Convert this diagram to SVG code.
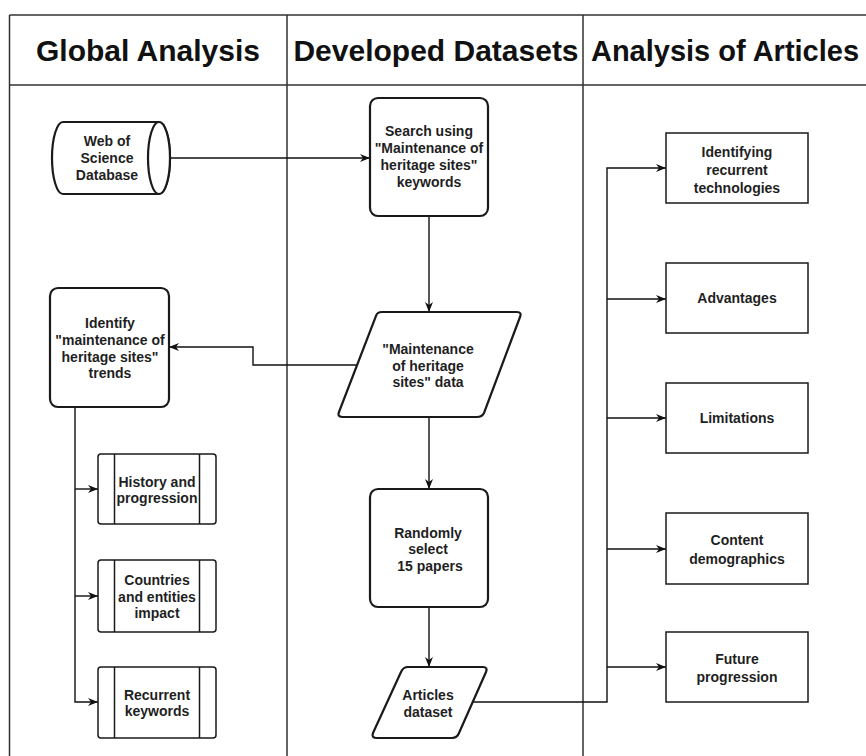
<svg xmlns="http://www.w3.org/2000/svg" width="866" height="756" viewBox="0 0 866 756">
<defs>
<marker id="arr" viewBox="0 0 10 8" refX="10" refY="4" markerWidth="10" markerHeight="8" markerUnits="userSpaceOnUse" orient="auto">
<path d="M0,0 L10,4 L0,8 L3,4 z" fill="#111"/>
</marker>
<style>
.lane{stroke:#333;stroke-width:1.5;fill:none}
.hdr{font-family:"Liberation Sans",Arial,sans-serif;font-weight:bold;font-size:30px;fill:#111;text-anchor:middle}
.node{fill:#fff;stroke:#1a1a1a;stroke-width:2.2}
.thin{fill:none;stroke:#1a1a1a;stroke-width:1.5}
.t{font-family:"Liberation Sans",Arial,sans-serif;font-weight:bold;font-size:14px;fill:#1f1f1f;text-anchor:middle}
.c{fill:none;stroke:#111;stroke-width:1.4}
</style>
</defs>
<rect width="866" height="756" fill="#fff"/>
<g id="lanes">
<path class="lane" d="M9.5,15 H866 M9.5,85 H866 M9.5,15 V756 M287,15 V756 M583,15 V756"/>
<text class="hdr" x="148" y="61">Global Analysis</text>
<text class="hdr" x="436" y="61">Developed Datasets</text>
<text class="hdr" x="725" y="61" style="font-size:29px">Analysis of Articles</text>
</g>
<g id="connectors">
<path class="c" d="M170,158 H370" marker-end="url(#arr)"/>
<path class="c" d="M429,216 V312" marker-end="url(#arr)"/>
<path class="c" d="M357,365 H253 V347 H169" marker-end="url(#arr)"/>
<path class="c" d="M75,407 V702 H98" marker-end="url(#arr)"/>
<path class="c" d="M75,489 H98" marker-end="url(#arr)"/>
<path class="c" d="M75,596 H98" marker-end="url(#arr)"/>
<path class="c" d="M429,417 V489" marker-end="url(#arr)"/>
<path class="c" d="M429,607 V667" marker-end="url(#arr)"/>
<path class="c" d="M472,702 H607 V168 H666" marker-end="url(#arr)"/>
<path class="c" d="M607,299 H666" marker-end="url(#arr)"/>
<path class="c" d="M607,418 H666" marker-end="url(#arr)"/>
<path class="c" d="M607,549 H666" marker-end="url(#arr)"/>
<path class="c" d="M607,667 H666" marker-end="url(#arr)"/>
</g>
<g id="wos">
<path class="node" d="M63,122 H159 A11,36 0 0 1 159,194 H63 A11,36 0 0 1 63,122 Z"/>
<ellipse class="node" cx="159" cy="158" rx="11" ry="36"/>
<text class="t" x="107" y="146">Web of</text>
<text class="t" x="107" y="163">Science</text>
<text class="t" x="107" y="180">Database</text>
</g>
<g id="search">
<rect class="node" x="370" y="98" width="118" height="118" rx="8"/>
<text class="t" x="429" y="136">Search using</text>
<text class="t" x="429" y="153">"Maintenance of</text>
<text class="t" x="429" y="170">heritage sites"</text>
<text class="t" x="429" y="187">keywords</text>
</g>
<g id="identify">
<rect class="node" x="50" y="288" width="119" height="119" rx="8"/>
<text class="t" x="110" y="328">Identify</text>
<text class="t" x="110" y="345">"maintenance of</text>
<text class="t" x="110" y="362">heritage sites"</text>
<text class="t" x="110" y="378">trends</text>
</g>
<g id="data">
<path class="node" d="M382,312 H517 Q522,312 520,317 L484,413 Q482,417 477,417 H343 Q337,417 339,412 L376,316 Q377,312 382,312 Z"/>
<text class="t" x="428" y="354">"Maintenance</text>
<text class="t" x="428" y="371">of heritage</text>
<text class="t" x="428" y="387">sites" data</text>
</g>
<g id="history">
<rect class="thin" x="98" y="454" width="118" height="70" rx="3"/>
<path class="thin" d="M114.5,454 V524 M199.5,454 V524"/>
<text class="t" x="157" y="487">History and</text>
<text class="t" x="157" y="503">progression</text>
</g>
<g id="countries">
<rect class="thin" x="98" y="560" width="118" height="72" rx="3"/>
<path class="thin" d="M114.5,560 V632 M199.5,560 V632"/>
<text class="t" x="157" y="585">Countries</text>
<text class="t" x="157" y="602">and entities</text>
<text class="t" x="157" y="618">impact</text>
</g>
<g id="keywords">
<rect class="thin" x="98" y="667" width="118" height="71" rx="3"/>
<path class="thin" d="M114.5,667 V738 M199.5,667 V738"/>
<text class="t" x="157" y="700">Recurrent</text>
<text class="t" x="157" y="716">keywords</text>
</g>
<g id="random">
<rect class="node" x="370" y="489" width="118" height="118" rx="8"/>
<text class="t" x="428" y="538">Randomly</text>
<text class="t" x="428" y="554">select</text>
<text class="t" x="430" y="571">15 papers</text>
</g>
<g id="articles">
<path class="node" d="M408,667 H483 Q488,667 486,672 L459,733 Q457,738 452,738 H377 Q371,738 373,733 L401,672 Q403,667 408,667 Z"/>
<text class="t" x="428" y="700">Articles</text>
<text class="t" x="428" y="717">dataset</text>
</g>
<g id="tech">
<rect class="thin" x="666" y="133" width="142" height="70"/>
<text class="t" x="737" y="157">Identifying</text>
<text class="t" x="737" y="175">recurrent</text>
<text class="t" x="737" y="193">technologies</text>
</g>
<g id="adv">
<rect class="thin" x="666" y="263" width="142" height="70"/>
<text class="t" x="737" y="303">Advantages</text>
</g>
<g id="lim">
<rect class="thin" x="666" y="383" width="142" height="70"/>
<text class="t" x="737" y="423">Limitations</text>
</g>
<g id="content">
<rect class="thin" x="666" y="513" width="142" height="71"/>
<text class="t" x="737" y="545">Content</text>
<text class="t" x="737" y="564">demographics</text>
</g>
<g id="future">
<rect class="thin" x="666" y="632" width="142" height="70"/>
<text class="t" x="737" y="664">Future</text>
<text class="t" x="737" y="682">progression</text>
</g>
</svg>
